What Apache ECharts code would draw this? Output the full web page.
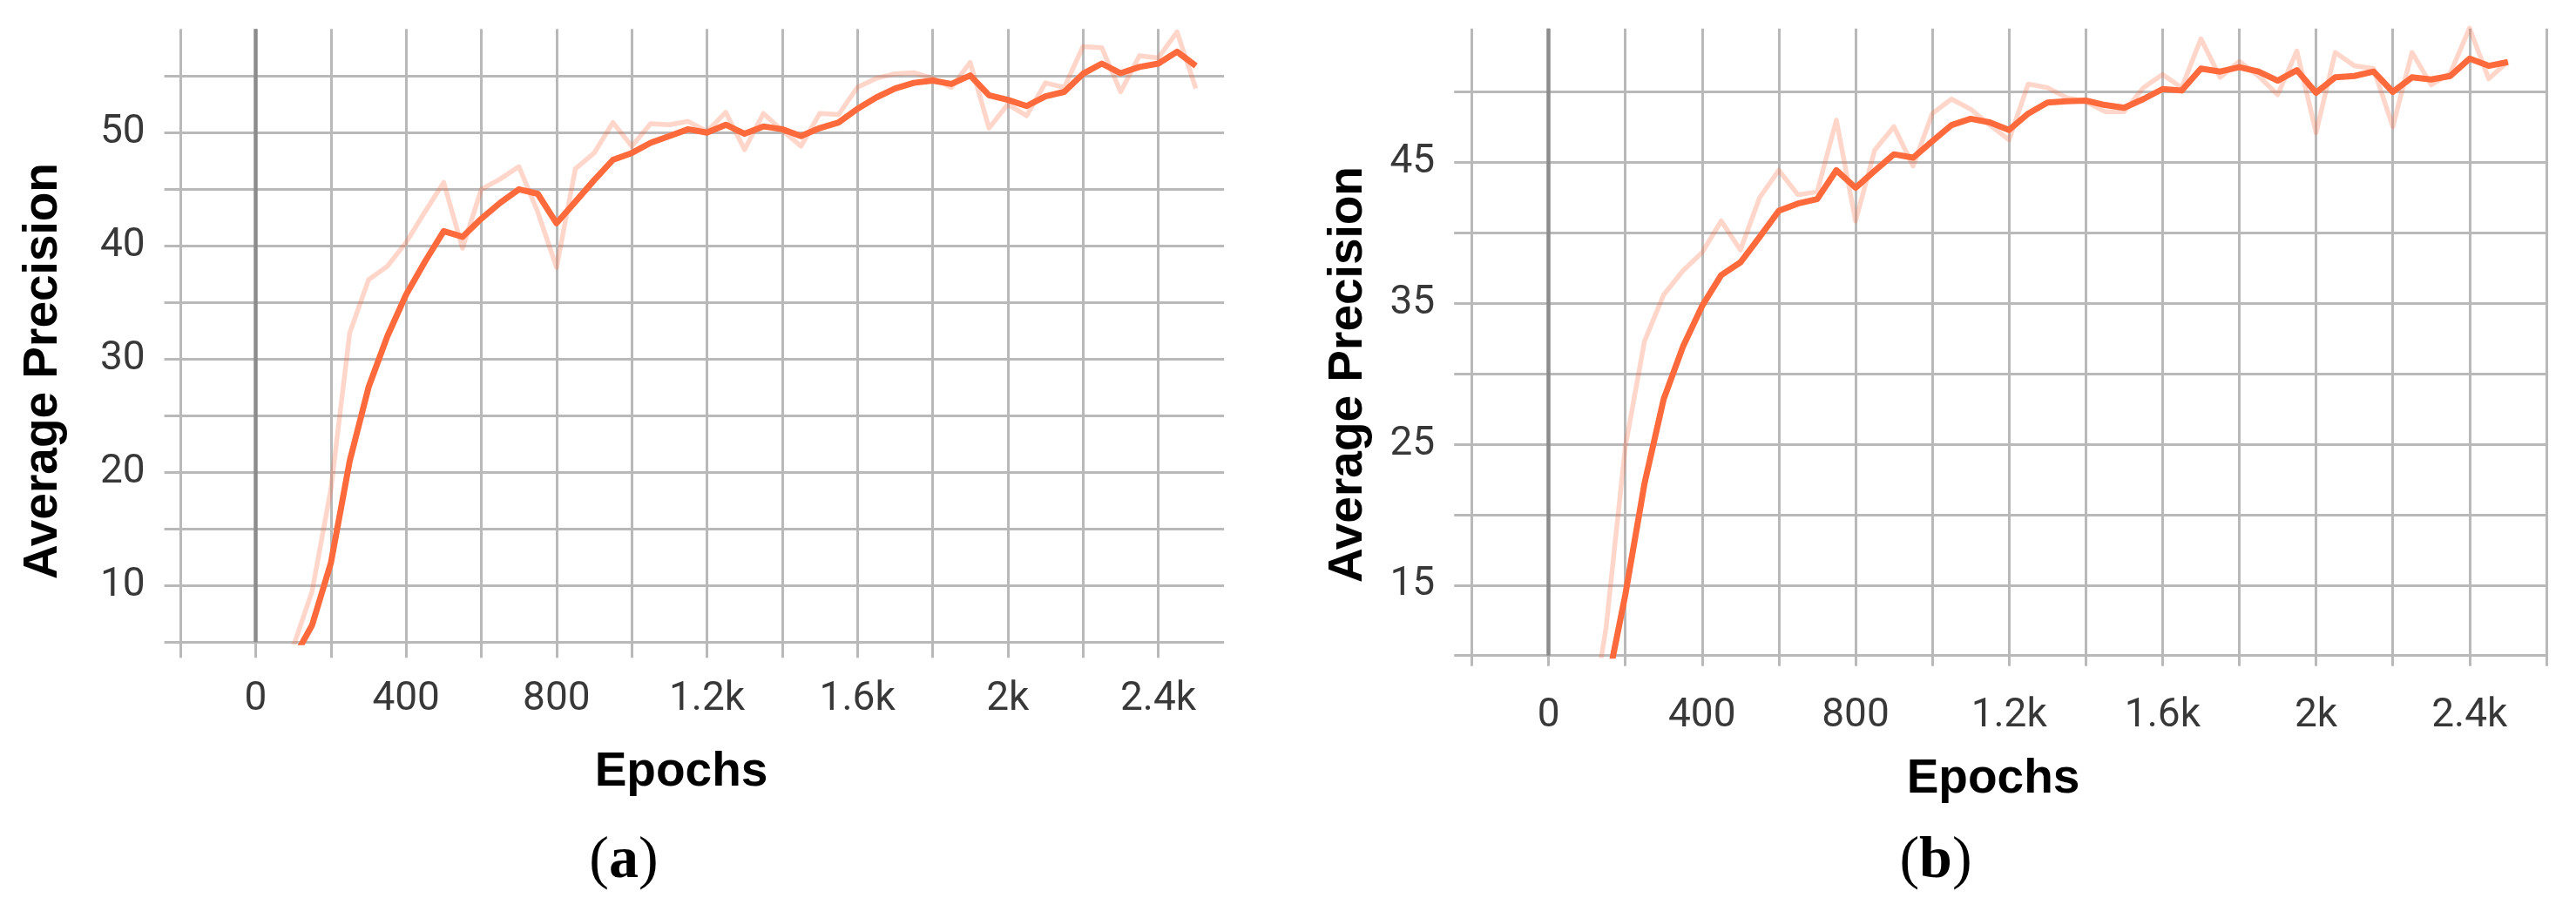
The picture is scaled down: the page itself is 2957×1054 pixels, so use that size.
<!DOCTYPE html>
<html>
<head>
<meta charset="utf-8">
<script src="https://cdn.jsdelivr.net/npm/echarts@6/dist/echarts.min.js"></script>
<style>
html,body{margin:0;padding:0;background:#fff;}
#chart{width:2957px;height:1054px;}
</style>
</head>
<body>
<div id="chart"></div>
<script>
// ---------------- DATA ----------------
const epochs = [100,150,200,250,300,350,400,450,500,550,600,650,700,750,800,850,900,950,1000,1050,1100,1150,1200,1250,1300,1350,1400,1450,1500,1550,1600,1650,1700,1750,1800,1850,1900,1950,2000,2050,2100,2150,2200,2250,2300,2350,2400,2450,2500];

// panel (a)
const rawA = [4.6,9.5,18.5,32.3,37.0,38.2,40.3,43.0,45.6,39.8,45.0,45.9,47.0,43.0,38.1,46.8,48.2,50.9,48.8,50.8,50.7,51.0,50.1,51.8,48.5,51.7,50.2,48.8,51.7,51.6,54.0,54.8,55.2,55.3,54.8,54.0,56.2,50.4,52.5,51.5,54.4,54.0,57.6,57.5,53.6,56.8,56.6,58.9,53.9];
const smoothA = [3.5,6.5,12.0,21.0,27.5,32.0,35.7,38.6,41.3,40.8,42.4,43.8,45.0,44.6,42.0,43.9,45.8,47.6,48.2,49.1,49.7,50.3,50.0,50.7,49.9,50.55,50.3,49.7,50.4,50.9,52.1,53.1,53.9,54.4,54.6,54.3,55.05,53.3,52.9,52.35,53.2,53.6,55.2,56.1,55.25,55.8,56.1,57.15,55.9];

// panel (b)
const rawB = [3.5,12.0,24.8,32.3,35.6,37.3,38.6,40.84,38.78,42.49,44.44,42.7,42.9,48.0,40.84,45.88,47.53,44.75,48.46,49.49,48.77,47.64,46.6,50.56,50.3,49.59,49.3,48.6,48.6,50.3,51.23,50.3,53.77,51.03,52.16,51.13,49.8,52.9,47.1,52.8,51.85,51.65,47.53,52.8,50.5,51.34,54.52,50.93,52.16];
const smoothB = [3.5,7.5,14.3,22.2,28.2,31.9,34.8,37.0,37.9,39.7,41.56,42.08,42.39,44.44,43.2,44.4,45.57,45.33,46.5,47.64,48.09,47.84,47.3,48.46,49.24,49.34,49.38,49.07,48.87,49.49,50.2,50.1,51.65,51.44,51.75,51.44,50.8,51.54,49.94,51.03,51.13,51.44,50.0,51.03,50.88,51.13,52.36,51.85,52.12];

// axis settings
const xTickStep = 200;
const yTickStep = 5;
const yAxisA = {min: 5, max: 60, top: 59.15};
const yAxisB = {min: 10, max: 55, top: 54.5};
const xExtA = {gridMin: -200, gridMax: 2400, lineMin: -243, lineMax: 2575};
const xExtB = {gridMin: -200, gridMax: 2600, lineMin: -246, lineMax: 2600};
const axisTitleX = 'Epochs';
const axisTitleY = 'Average Precision';
const panelLabels = ['a', 'b'];

// ---------------- STYLE / LAYOUT ----------------
const GRID = '#b9b9b9';
const ZERO = '#8c8c8c';
const ORANGE = '#ff6a3d';
const FAINT = 'rgba(255,106,61,0.28)';
const tickFont = {fontFamily: 'Roboto', fontSize: 46, color: '#383838'};

// pixel layout of the two panels
const layout = [
  {hLeft: 188.6, hRight: 1405.1, hTop: 22.3, hBottom: 737.3,
   vLeft: 207.2, vRight: 1329.5, vTop: 33.3, vBottom: 755.3, xLabelMargin: 25, yLabelMargin: 22},
  {hLeft: 1669.2, hRight: 2922.9, hTop: 24.6, hBottom: 752.7,
   vLeft: 1689.5, vRight: 2922.9, vTop: 32.7, vBottom: 764.7, xLabelMargin: 35, yLabelMargin: 22}
];

const panels = [
  {raw: rawA, smooth: smoothA, y: yAxisA, x: xExtA, yLabel: v => (v % 10 === 0 && v < yAxisA.max) ? String(v) : ''},
  {raw: rawB, smooth: smoothB, y: yAxisB, x: xExtB, yLabel: v => (v % 10 === 5 && v < yAxisB.max) ? String(v) : ''}
];

function kFmt(v) {
  if (v < 0 || v % 400 !== 0) return '';
  return v >= 1000 ? (v / 1000) + 'k' : String(v);
}

const grid = [], xAxis = [], yAxis = [], series = [];
panels.forEach((p, i) => {
  const L = layout[i];
  const hIdx = grid.length;
  // grid with horizontal lines + data
  grid.push({left: L.hLeft, top: L.hTop, width: L.hRight - L.hLeft, height: L.hBottom - L.hTop,
             containLabel: false, outerBoundsMode: 'none'});
  xAxis.push({type: 'value', gridIndex: hIdx, min: p.x.lineMin, max: p.x.lineMax, show: false});
  yAxis.push({type: 'value', gridIndex: hIdx, min: p.y.min, max: p.y.max, interval: yTickStep,
    axisLine: {show: false}, axisTick: {show: false},
    splitLine: {show: true, showMaxLine: false, lineStyle: {color: GRID, width: 3}},
    axisLabel: {show: true, formatter: p.yLabel, margin: L.yLabelMargin, ...tickFont}});
  // grid with vertical lines + x labels
  const vIdx = grid.length;
  grid.push({left: L.vLeft, top: L.vTop, width: L.vRight - L.vLeft, height: L.vBottom - L.vTop,
             containLabel: false, outerBoundsMode: 'none'});
  xAxis.push({type: 'value', gridIndex: vIdx, min: p.x.gridMin, max: p.x.gridMax, interval: xTickStep,
    axisLine: {show: false}, axisTick: {show: false},
    splitLine: {show: true, lineStyle: {color: GRID, width: 3}},
    axisLabel: {show: true, formatter: kFmt, margin: L.xLabelMargin, ...tickFont}});
  yAxis.push({type: 'value', gridIndex: vIdx, min: 0, max: 1, show: false});

  // zero line
  series.push({type: 'line', xAxisIndex: hIdx, yAxisIndex: hIdx, data: [], silent: true, z: 1,
    markLine: {silent: true, symbol: ['none', 'none'], label: {show: false},
      lineStyle: {color: ZERO, width: 4.5, type: 'solid'},
      data: [[{coord: [0, p.y.min]}, {coord: [0, p.y.top]}]]}});
  series.push({type: 'line', xAxisIndex: hIdx, yAxisIndex: hIdx, z: 3,
    data: epochs.map((e, k) => [e, p.raw[k]]), showSymbol: false, symbol: 'none',
    lineStyle: {color: FAINT, width: 5.5, join: 'round'}, clip: true});
  series.push({type: 'line', xAxisIndex: hIdx, yAxisIndex: hIdx, z: 4,
    data: epochs.map((e, k) => [e, p.smooth[k]]), showSymbol: false, symbol: 'none',
    lineStyle: {color: ORANGE, width: 7, join: 'round'}, clip: true});
});

const titleFont = 'bold 55px "Liberation Sans", Arial, sans-serif';
const graphic = [
  {type: 'text', x: 50, y: 426, rotation: Math.PI / 2,
   style: {text: axisTitleY, font: titleFont, fill: '#000', align: 'center', verticalAlign: 'middle'}},
  {type: 'text', x: 1548, y: 430, rotation: Math.PI / 2,
   style: {text: axisTitleY, font: titleFont, fill: '#000', align: 'center', verticalAlign: 'middle'}},
  {type: 'text', x: 782, y: 887,
   style: {text: axisTitleX, font: titleFont, fill: '#000', align: 'center', verticalAlign: 'middle'}},
  {type: 'text', x: 2288, y: 895,
   style: {text: axisTitleX, font: titleFont, fill: '#000', align: 'center', verticalAlign: 'middle'}}
];
[[716, 989], [2222, 989]].forEach((pos, i) => {
  graphic.push({type: 'text', x: pos[0], y: pos[1],
    style: {text: '{n|(}{b|' + panelLabels[i] + '}{n|)}', align: 'center', verticalAlign: 'middle',
      rich: {n: {fontFamily: '"Liberation Serif", serif', fontSize: 68, fill: '#000'},
             b: {fontFamily: '"Liberation Serif", serif', fontSize: 68, fontWeight: 'bold', fill: '#000'}}}});
});

const chart = echarts.init(document.getElementById('chart'), null, {renderer: 'canvas'});
chart.setOption({
  animation: false,
  backgroundColor: '#fff',
  grid, xAxis, yAxis, series, graphic
});
</script>
</body>
</html>
